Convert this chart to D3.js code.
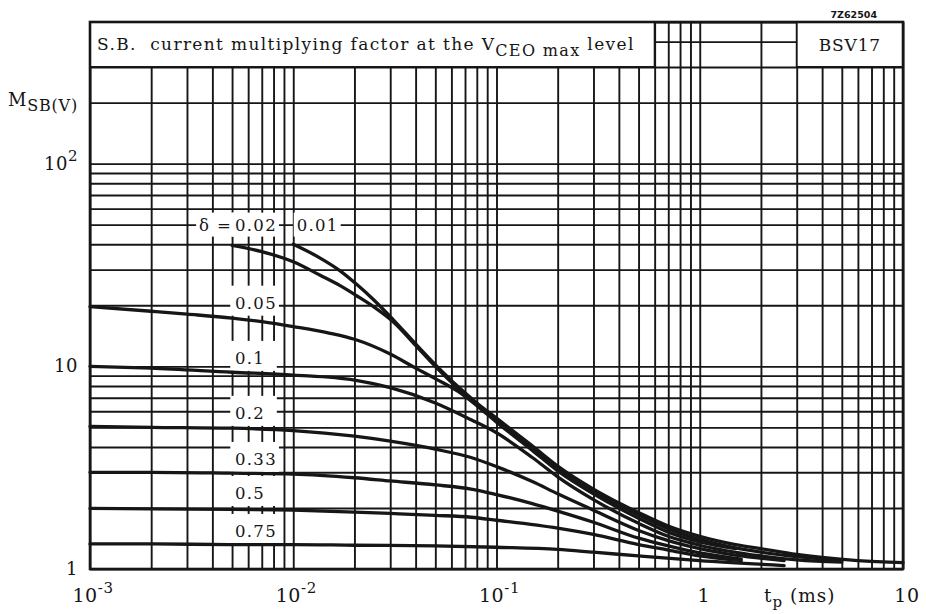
<!DOCTYPE html>
<html><head><meta charset="utf-8">
<script src="https://cdn.jsdelivr.net/npm/d3@7"></script>
<style>body{margin:0;background:#fff} svg{display:block} text{white-space:pre}</style>
</head><body><svg id="c" width="926" height="614"></svg>
<script>
// ---- data ----
const s001 = [[0.01,40],[0.0135,34.3],[0.017,29.6],[0.0205,25.4],[0.025,21.2],[0.031,17.0],[0.04,12.9],[0.05,10.2],[0.065,7.9],[0.08,6.6],[0.1,5.55],[0.15,4.05],[0.2,3.22],[0.3,2.48],[0.4,2.12],[0.5,1.9],[0.7,1.63],[1,1.45],[1.5,1.32],[2,1.26],[3,1.18],[4,1.14],[6,1.10],[10,1.075]];
const s002 = [[0.005,39.5],[0.007,36.8],[0.01,32.8],[0.0135,28.2],[0.017,25.0],[0.0205,22.3],[0.025,19.6],[0.031,16.6],[0.04,12.7],[0.05,10.0],[0.065,7.75],[0.08,6.5],[0.1,5.45],[0.15,3.97],[0.2,3.15],[0.3,2.42],[0.5,1.85],[0.7,1.58],[1,1.40],[1.5,1.27],[2,1.21],[3,1.15],[5,1.1]];
const s005 = [[0.001,19.7],[0.002,18.7],[0.003,18.1],[0.005,17.3],[0.007,16.6],[0.01,15.7],[0.015,14.6],[0.02,13.6],[0.03,11.5],[0.04,9.8],[0.05,8.7],[0.065,7.5],[0.08,6.4],[0.1,5.3],[0.15,3.85],[0.2,3.05],[0.3,2.35],[0.5,1.78],[0.7,1.52],[1,1.36],[1.5,1.26]];
const s01 = [[0.001,10.0],[0.002,9.8],[0.005,9.35],[0.01,9.05],[0.02,8.55],[0.03,7.85],[0.05,6.6],[0.075,5.45],[0.1,4.7],[0.15,3.55],[0.2,2.85],[0.3,2.2],[0.5,1.68],[0.7,1.45],[1,1.31],[2,1.16],[3,1.11],[5,1.08]];
const s02 = [[0.001,5.05],[0.002,5.0],[0.005,4.95],[0.01,4.82],[0.02,4.52],[0.03,4.27],[0.05,3.9],[0.075,3.55],[0.1,3.2],[0.15,2.7],[0.2,2.35],[0.3,1.95],[0.5,1.55],[0.7,1.38],[1,1.26],[1.5,1.17],[2.6,1.1]];
const s033 = [[0.001,3.0],[0.002,3.0],[0.005,2.97],[0.01,2.94],[0.02,2.82],[0.03,2.72],[0.05,2.6],[0.075,2.48],[0.1,2.33],[0.15,2.1],[0.2,1.93],[0.3,1.7],[0.5,1.42],[0.7,1.3],[1,1.2],[1.6,1.12]];
const s05 = [[0.001,1.99],[0.002,1.98],[0.005,1.97],[0.01,1.95],[0.02,1.91],[0.03,1.88],[0.05,1.84],[0.075,1.8],[0.1,1.74],[0.2,1.59],[0.3,1.48],[0.5,1.32],[0.7,1.24],[1,1.16],[1.6,1.1]];
const s075 = [[0.001,1.33],[0.002,1.33],[0.005,1.32],[0.01,1.32],[0.02,1.31],[0.05,1.3],[0.1,1.28],[0.2,1.25],[0.3,1.21],[0.5,1.16],[1,1.1],[2.6,1.04]];
const seriesList = [s001, s002, s005, s01, s02, s033, s05, s075];

const curveLabels = ["0.02","0.05","0.1","0.2","0.33","0.5","0.75"];
const curveLabelM  = [50, 20.6, 11.0, 5.89, 3.49, 2.37, 1.54];
const curveLabelT  = 0.00517;
const extraLabel = "0.01", extraLabelT = 0.0104;

const xTickValues = [0.001, 0.01, 0.1, 1, 10];
const xTickBase   = ["10","10","10","1","10"];
const xTickExp    = ["-3","-2","-1","",""];
const yTickValues = [1, 10, 100];
const yTickBase   = ["1","10","10"];
const yTickExp    = ["","","2"];

// ---- drawing ----
const svg = d3.select("#c");
const L=90, R=903, T=22, B=569;
const ink = "#161616";
const FONT = "DejaVu Serif";
const x = d3.scaleLog().domain([0.001,10]).range([L,R]);
const y = d3.scaleLog().domain([1,500]).range([B,T]);

svg.append("rect").attr("width",926).attr("height",614).attr("fill","#fff");

const gx = svg.append("g").attr("transform",`translate(0,${B})`)
  .call(d3.axisBottom(x).tickValues(x.ticks()).tickSize(-(B-T)).tickFormat(""));
const gy = svg.append("g").attr("transform",`translate(${L},0)`)
  .call(d3.axisLeft(y).tickValues(y.ticks()).tickSize(-(R-L)).tickFormat(""));
[gx,gy].forEach(g=>{
  g.select(".domain").remove();
  g.selectAll("line").attr("stroke",ink).attr("stroke-width",1.9);
});

// header boxes
svg.append("rect").attr("x",x(0.001)).attr("y",y(500)).attr("width",x(0.6)-x(0.001)).attr("height",y(300)-y(500))
  .attr("fill","#fff").attr("stroke",ink).attr("stroke-width",1.9);
svg.append("rect").attr("x",x(3)).attr("y",y(500)).attr("width",x(10)-x(3)).attr("height",y(300)-y(500))
  .attr("fill","#fff").attr("stroke",ink).attr("stroke-width",1.9);

const title = svg.append("text").attr("x",97).attr("y",50).attr("font-family",FONT).attr("font-size",17)
  .attr("letter-spacing",1.35).attr("fill",ink);
title.append("tspan").text("S.B.  current multiplying factor at the V");
title.append("tspan").attr("dy",6).attr("font-size",16).text("CEO max");
title.append("tspan").attr("dy",-6).text(" level");
svg.append("text").attr("x",(x(3)+x(10))/2).attr("y",51).attr("text-anchor","middle")
  .attr("font-family",FONT).attr("font-size",17).attr("letter-spacing",0.8).attr("fill",ink).text("BSV17");
svg.append("text").attr("x",877).attr("y",18).attr("text-anchor","end")
  .attr("font-family","DejaVu Sans").attr("font-weight","bold").attr("font-size",9.5).attr("fill",ink).text("7Z62504");

// curve labels with white backgrounds
const lblG = svg.append("g");
function addLabel(tx, cy, str, opts){
  opts = opts || {};
  const t = lblG.append("text").attr("x",tx).attr("y",cy).attr("dy","0.36em")
    .attr("text-anchor",opts.anchor||"start").attr("font-family",FONT).attr("font-size",16.5)
    .attr("font-style",opts.italic?"italic":"normal")
    .attr("letter-spacing",1.3).attr("fill",ink).text(str);
  const bb = t.node().getBBox();
  const x0 = opts.wide ? Math.min(bb.x-3, x(0.0049)) : bb.x-3;
  const x1 = opts.wide ? Math.max(bb.x+bb.width+2, x(0.0083)) : bb.x+bb.width+2;
  lblG.insert("rect","text").attr("x",x0).attr("y",bb.y-(opts.wide?8:3))
    .attr("width",x1-x0).attr("height",bb.height+(opts.wide?11:5)).attr("fill","#fff");
}
curveLabels.forEach((s,i)=> addLabel(x(curveLabelT), y(curveLabelM[i]), s, {wide: i>0}));
addLabel(x(curveLabelT)-3, y(curveLabelM[0]), "\u03B4 =", {anchor:"end", italic:false});
addLabel(x(extraLabelT), y(curveLabelM[0]), extraLabel);

// curves
const line = d3.line().x(d=>x(d[0])).y(d=>y(d[1])).curve(d3.curveMonotoneX);
svg.append("g").selectAll("path").data(seriesList).join("path")
  .attr("d",line).attr("fill","none").attr("stroke",ink).attr("stroke-width",3.3).attr("stroke-linecap","round");

// frame
svg.append("rect").attr("x",L).attr("y",T).attr("width",R-L).attr("height",B-T)
  .attr("fill","none").attr("stroke",ink).attr("stroke-width",2.6);

// x tick labels
xTickValues.forEach((v,i)=>{
  const t = svg.append("text").attr("x",x(v)+(xTickExp[i]?3:4)).attr("y",602).attr("text-anchor","middle")
    .attr("font-family",FONT).attr("font-size",19).attr("letter-spacing",0.6).attr("fill",ink);
  t.append("tspan").text(xTickBase[i]);
  if (xTickExp[i]) t.append("tspan").attr("dy",-9).attr("font-size",15).text(xTickExp[i]);
});
const xt = svg.append("text").attr("x",764).attr("y",602).attr("font-family",FONT).attr("font-size",18.5)
  .attr("letter-spacing",1).attr("fill",ink);
xt.append("tspan").text("t");
xt.append("tspan").attr("dy",5).attr("font-size",15).text("p");
xt.append("tspan").attr("dy",-5).text(" (ms)");

// y tick labels
yTickValues.forEach((v,i)=>{
  const t = svg.append("text").attr("x",78).attr("y",y(v)+6).attr("text-anchor","end")
    .attr("font-family",FONT).attr("font-size",18).attr("letter-spacing",0.5).attr("fill",ink);
  t.append("tspan").text(yTickBase[i]);
  if (yTickExp[i]) t.append("tspan").attr("dy",-9).attr("font-size",15).text(yTickExp[i]);
});
const yt = svg.append("text").attr("x",8).attr("y",106).attr("font-family",FONT).attr("font-size",18)
  .attr("letter-spacing",0.8).attr("fill",ink);
yt.append("tspan").text("M");
yt.append("tspan").attr("dy",5).attr("font-size",16).text("SB(V)");
</script></body></html>
